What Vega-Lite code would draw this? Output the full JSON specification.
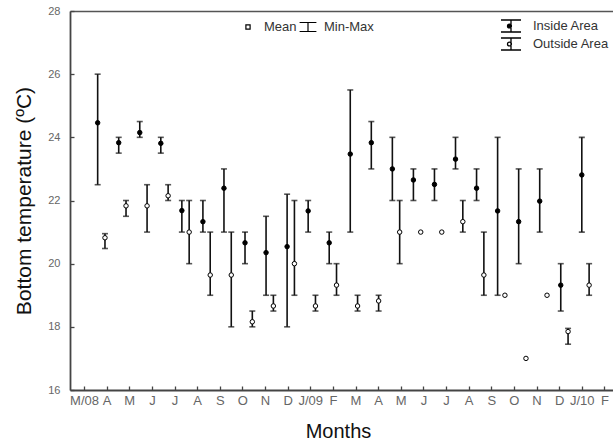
{
  "$schema": "https://vega.github.io/schema/vega-lite/v6.json",
  "width": 543,
  "height": 379,
  "autosize": {"type": "none"},
  "padding": {"left": 70, "top": 11, "right": 0, "bottom": 54},
  "background": "white",
  "config": {
    "view": {"stroke": null},
    "axis": {"grid": false, "domainColor": "#444", "domainWidth": 1.8, "tickColor": "#444", "tickWidth": 1.3, "labelColor": "#666", "labelFont": "Liberation Sans", "titleFont": "Liberation Sans", "titleFontWeight": "normal", "titleColor": "#111"},
    "legend": {"labelFont": "Liberation Sans", "labelColor": "#333", "labelFontSize": 13}
  },
  "datasets": {
    "temps": [
      {"i": 0, "area": "Inside Area", "mean": 24.46, "min": 22.5, "max": 26.0},
      {"i": 0, "area": "Outside Area", "mean": 20.82, "min": 20.48, "max": 20.95},
      {"i": 1, "area": "Inside Area", "mean": 23.83, "min": 23.5, "max": 24.0},
      {"i": 1, "area": "Outside Area", "mean": 21.83, "min": 21.5, "max": 22.0},
      {"i": 2, "area": "Inside Area", "mean": 24.15, "min": 24.0, "max": 24.5},
      {"i": 2, "area": "Outside Area", "mean": 21.83, "min": 21.0, "max": 22.5},
      {"i": 3, "area": "Inside Area", "mean": 23.81, "min": 23.5, "max": 24.0},
      {"i": 3, "area": "Outside Area", "mean": 22.15, "min": 22.0, "max": 22.5},
      {"i": 4, "area": "Inside Area", "mean": 21.68, "min": 21.0, "max": 22.0},
      {"i": 4, "area": "Outside Area", "mean": 21.0, "min": 20.0, "max": 22.0},
      {"i": 5, "area": "Inside Area", "mean": 21.33, "min": 21.0, "max": 22.0},
      {"i": 5, "area": "Outside Area", "mean": 19.64, "min": 19.0, "max": 21.0},
      {"i": 6, "area": "Inside Area", "mean": 22.39, "min": 21.0, "max": 23.0},
      {"i": 6, "area": "Outside Area", "mean": 19.64, "min": 18.0, "max": 21.0},
      {"i": 7, "area": "Inside Area", "mean": 20.66, "min": 20.0, "max": 21.0},
      {"i": 7, "area": "Outside Area", "mean": 18.16, "min": 18.0, "max": 18.5},
      {"i": 8, "area": "Inside Area", "mean": 20.35, "min": 19.0, "max": 21.5},
      {"i": 8, "area": "Outside Area", "mean": 18.66, "min": 18.5, "max": 19.0},
      {"i": 9, "area": "Inside Area", "mean": 20.54, "min": 18.0, "max": 22.2},
      {"i": 9, "area": "Outside Area", "mean": 20.0, "min": 19.0, "max": 22.0},
      {"i": 10, "area": "Inside Area", "mean": 21.67, "min": 21.0, "max": 22.0},
      {"i": 10, "area": "Outside Area", "mean": 18.66, "min": 18.5, "max": 19.0},
      {"i": 11, "area": "Inside Area", "mean": 20.66, "min": 20.0, "max": 21.0},
      {"i": 11, "area": "Outside Area", "mean": 19.32, "min": 19.0, "max": 20.0},
      {"i": 12, "area": "Inside Area", "mean": 23.47, "min": 21.0, "max": 25.5},
      {"i": 12, "area": "Outside Area", "mean": 18.66, "min": 18.5, "max": 19.0},
      {"i": 13, "area": "Inside Area", "mean": 23.83, "min": 23.0, "max": 24.5},
      {"i": 13, "area": "Outside Area", "mean": 18.82, "min": 18.5, "max": 19.0},
      {"i": 14, "area": "Inside Area", "mean": 23.0, "min": 22.0, "max": 24.0},
      {"i": 14, "area": "Outside Area", "mean": 21.0, "min": 20.0, "max": 22.0},
      {"i": 15, "area": "Inside Area", "mean": 22.65, "min": 22.0, "max": 23.0},
      {"i": 15, "area": "Outside Area", "mean": 21.0},
      {"i": 16, "area": "Inside Area", "mean": 22.51, "min": 22.0, "max": 23.0},
      {"i": 16, "area": "Outside Area", "mean": 21.0},
      {"i": 17, "area": "Inside Area", "mean": 23.31, "min": 23.0, "max": 24.0},
      {"i": 17, "area": "Outside Area", "mean": 21.33, "min": 21.0, "max": 22.0},
      {"i": 18, "area": "Inside Area", "mean": 22.39, "min": 22.0, "max": 23.0},
      {"i": 18, "area": "Outside Area", "mean": 19.64, "min": 19.0, "max": 21.0},
      {"i": 19, "area": "Inside Area", "mean": 21.67, "min": 19.0, "max": 24.0},
      {"i": 19, "area": "Outside Area", "mean": 19.0},
      {"i": 20, "area": "Inside Area", "mean": 21.33, "min": 20.0, "max": 23.0},
      {"i": 20, "area": "Outside Area", "mean": 17.0},
      {"i": 21, "area": "Inside Area", "mean": 21.98, "min": 21.0, "max": 23.0},
      {"i": 21, "area": "Outside Area", "mean": 19.0},
      {"i": 22, "area": "Inside Area", "mean": 19.32, "min": 18.5, "max": 20.0},
      {"i": 22, "area": "Outside Area", "mean": 17.85, "min": 17.45, "max": 17.95},
      {"i": 23, "area": "Inside Area", "mean": 22.81, "min": 21.0, "max": 24.0},
      {"i": 23, "area": "Outside Area", "mean": 19.32, "min": 19.0, "max": 20.0}
    ]
  },
  "data": {"name": "temps"},
  "layer": [
    {
      "mark": {"type": "point", "opacity": 0, "color": "black", "filled": false},
      "encoding": {
        "x": {
          "field": "i", "type": "ordinal",
          "scale": {"paddingInner": 0, "paddingOuter": 0.397, "align": 0.62},
          "axis": {
            "title": "Months",
            "labelExpr": "['M/08','A','M','J','J','A','S','O','N','D','J/09','F','M','A','M','J','J','A','S','O','N','D','J/10','F'][datum.value]",
            "labelAngle": 0, "labelFontSize": 13, "labelPadding": 8, "tickSize": -4,
            "titleFontSize": 20, "titleBaseline": "alphabetic", "titleY": 47, "titleX": 268
          }
        },
        "y": {
          "field": "mean", "type": "quantitative",
          "scale": {"domain": [16, 28], "nice": false, "zero": false},
          "axis": {
            "title": "Bottom temperature (ºC)", "values": [16, 18, 20, 22, 24, 26, 28],
            "labelFontSize": 11, "labelPadding": 14, "tickSize": -4,
            "titleFontSize": 21, "titleX": -46, "titleY": 189.5, "titleBaseline": "middle"
          }
        },
        "shape": {
          "datum": "Mean", "type": "nominal",
          "scale": {"domain": ["Mean", "Min-Max"], "range": ["M-0.3,-0.3H0.3V0.3H-0.3Z", "M-1.2,-0.64H1.2M0,-0.64V0.64M-1.2,0.64H1.2"]},
          "legend": {
            "orient": "none", "legendX": 170, "legendY": 8, "title": null, "padding": 0,
            "direction": "horizontal", "symbolSize": 196, "labelOffset": 8, "columnPadding": 0,
            "symbolStrokeColor": "black", "symbolFillColor": "white", "symbolStrokeWidth": 1.2, "symbolOpacity": 1
          }
        }
      }
    },
    {
      "encoding": {
        "x": {
          "field": "i", "type": "ordinal",
          "scale": {"paddingInner": 0, "paddingOuter": 0.898, "align": 0.55},
          "axis": {"orient": "top", "labels": false, "ticks": false, "title": null, "domainColor": "#555", "domainWidth": 1.5}
        },
        "xOffset": {
          "field": "area", "type": "nominal",
          "scale": {"domain": ["Inside Area", "Outside Area"], "paddingInner": 0, "paddingOuter": 0.44}
        }
      },
      "layer": [
        {
          "transform": [{"filter": "isValid(datum.min)"}],
          "mark": {"type": "rule", "color": "#111", "strokeWidth": 1.6},
          "encoding": {
            "y": {"field": "min", "type": "quantitative"},
            "y2": {"field": "max"}
          }
        },
        {
          "transform": [{"filter": "isValid(datum.min)"}],
          "mark": {"type": "tick", "color": "#111", "thickness": 1.6, "size": 6},
          "encoding": {
            "y": {"field": "min", "type": "quantitative"}
          }
        },
        {
          "transform": [{"filter": "isValid(datum.max)"}],
          "mark": {"type": "tick", "color": "#111", "thickness": 1.6, "size": 6},
          "encoding": {
            "y": {"field": "max", "type": "quantitative"}
          }
        },
        {
          "mark": {"type": "point", "filled": true, "stroke": "black", "strokeWidth": 1, "size": 20, "opacity": 1},
          "encoding": {
            "y": {"field": "mean", "type": "quantitative"},
            "fill": {
              "field": "area", "type": "nominal",
              "scale": {"domain": ["Inside Area", "Outside Area"], "range": ["black", "white"]},
              "legend": {
                "orient": "none", "legendX": 433, "legendY": 7, "title": null, "padding": 0,
                "symbolType": "M-1.43,-0.86H1.43M0,-0.86V0.86M-1.43,0.86H1.43M-0.5,0A0.28,0.28 0 1,0 0.06,0A0.28,0.28 0 1,0 -0.5,0Z",
                "symbolSize": 196, "symbolStrokeColor": "black", "symbolStrokeWidth": 1.3,
                "labelOffset": 14, "rowPadding": 0
              }
            }
          }
        }
      ]
    }
  ],
  "resolve": {"scale": {"x": "independent"}, "axis": {"x": "independent"}}
}
